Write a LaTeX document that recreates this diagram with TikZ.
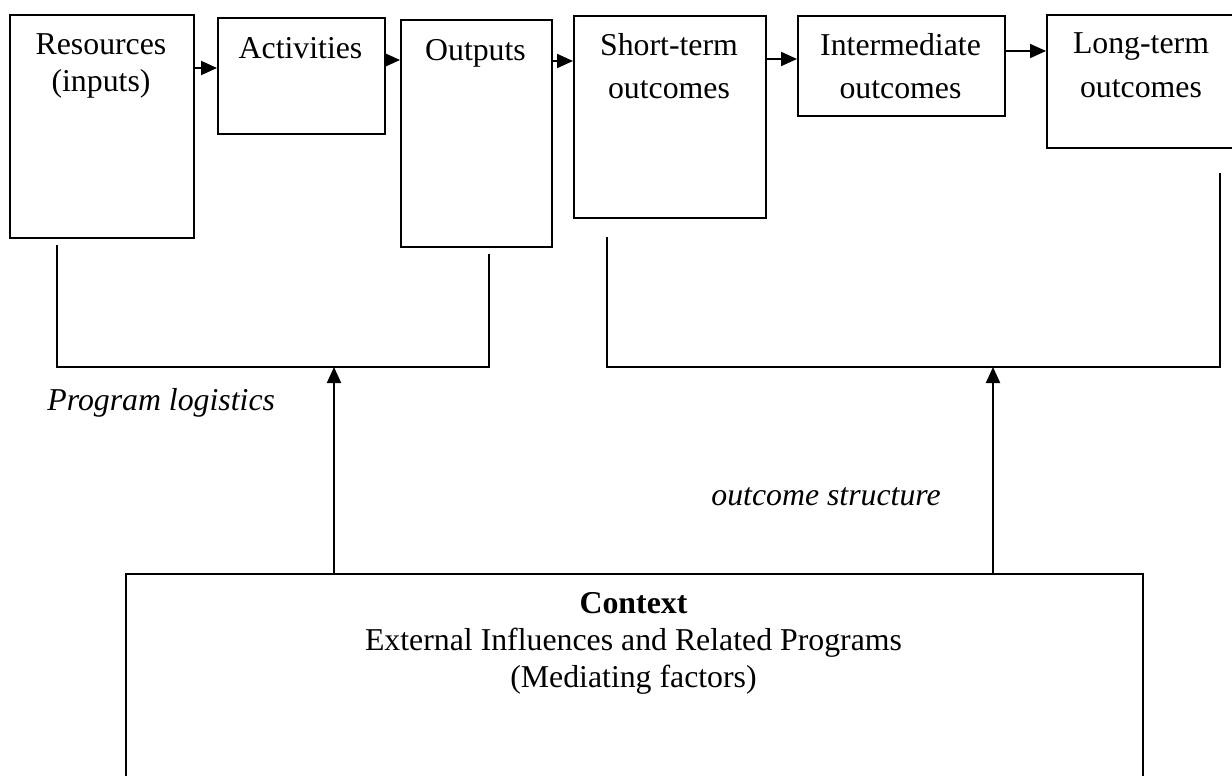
\documentclass[tikz,border=0pt]{standalone}
\usepackage{fontspec}
\setmainfont{Liberation Serif}
\usetikzlibrary{arrows.meta}
\begin{document}
\begin{tikzpicture}[x=0.5pt,y=-0.5pt,
  box/.style={draw,line width=1pt,inner sep=0pt,anchor=north west},
  lbl/.style={anchor=base,align=center,inner sep=0pt,font=\fontsize{15.9}{21.5}\selectfont},
  lblb/.style={anchor=base,align=center,inner sep=0pt,font=\fontsize{15.9}{18.5}\selectfont},
  ctxlbl/.style={anchor=base,align=center,inner sep=0pt,font=\fontsize{15.9}{18.5}\selectfont},
  note/.style={anchor=base west,inner sep=0pt,font=\fontsize{15.9}{18.5}\selectfont\itshape},
  arr/.style={line width=1pt,-{Triangle[length=8pt,width=7pt]}},
  link/.style={line width=1pt}]
\useasboundingbox (0,0) rectangle (1232,776);
\begin{scope}
\clip (0,0) rectangle (1232,776);
% boxes
\node[box,minimum width=92pt,minimum height=111.5pt] (res) at (9,14) {};
\node[box,minimum width=83.5pt,minimum height=58pt] (act) at (217,17) {};
\node[box,minimum width=75.5pt,minimum height=113.5pt] (out) at (400,19) {};
\node[box,minimum width=96pt,minimum height=101pt] (sto) at (573,15) {};
\node[box,minimum width=103.5pt,minimum height=50pt] (ino) at (797,15) {};
\node[box,minimum width=95pt,minimum height=66.5pt] (lto) at (1046,14) {};
\node[box,minimum width=508.5pt,minimum height=108.5pt] (ctx) at (125,573) {};
% box texts (anchor = baseline of last line)
\node[lblb] (resT) at (101,91) {Resources\\(inputs)};
\node[lbl] (actT) at (300.5,58) {Activities};
\node[lbl] (outT) at (475.5,60) {Outputs};
\node[lbl] (stoT) at (669,98) {Short-term\\outcomes};
\node[lbl] (inoT) at (900.5,98) {Intermediate\\outcomes};
\node[lbl] (ltoT) at (1141,97) {Long-term\\outcomes};
\node[ctxlbl] (ctxT) at (633.5,687) {\textbf{Context}\\External Influences and Related Programs\\(Mediating factors)};
% flow arrows
\draw[arr] (res.east |- 0,68) -- (act.west |- 0,68);
\draw[arr] (act.east |- 0,60) -- (out.west |- 0,60);
\draw[arr] (out.east |- 0,61) -- (sto.west |- 0,61);
\draw[arr] (sto.east |- 0,59) -- (ino.west |- 0,59);
\draw[arr] (ino.east |- 0,51) -- (lto.west |- 0,51);
% brackets
\coordinate (pl1) at (57,245);
\coordinate (pl2) at (489,254);
\coordinate (pl) at (334,367);
\coordinate (os1) at (607,237);
\coordinate (os2) at (1220,173);
\coordinate (os) at (993,367);
\draw[link] (pl1) |- (pl2 |- pl) -- (pl2);
\draw[link] (os1) |- (os2 |- os) -- (os2);
\draw[arr] (ctx.north -| pl) -- (pl);
\draw[arr] (ctx.north -| os) -- (os);
% notes
\node[note] (plT) at (47,410) {Program logistics};
\node[note] (osT) at (711,505) {outcome structure};
\end{scope}
\end{tikzpicture}
\end{document}
